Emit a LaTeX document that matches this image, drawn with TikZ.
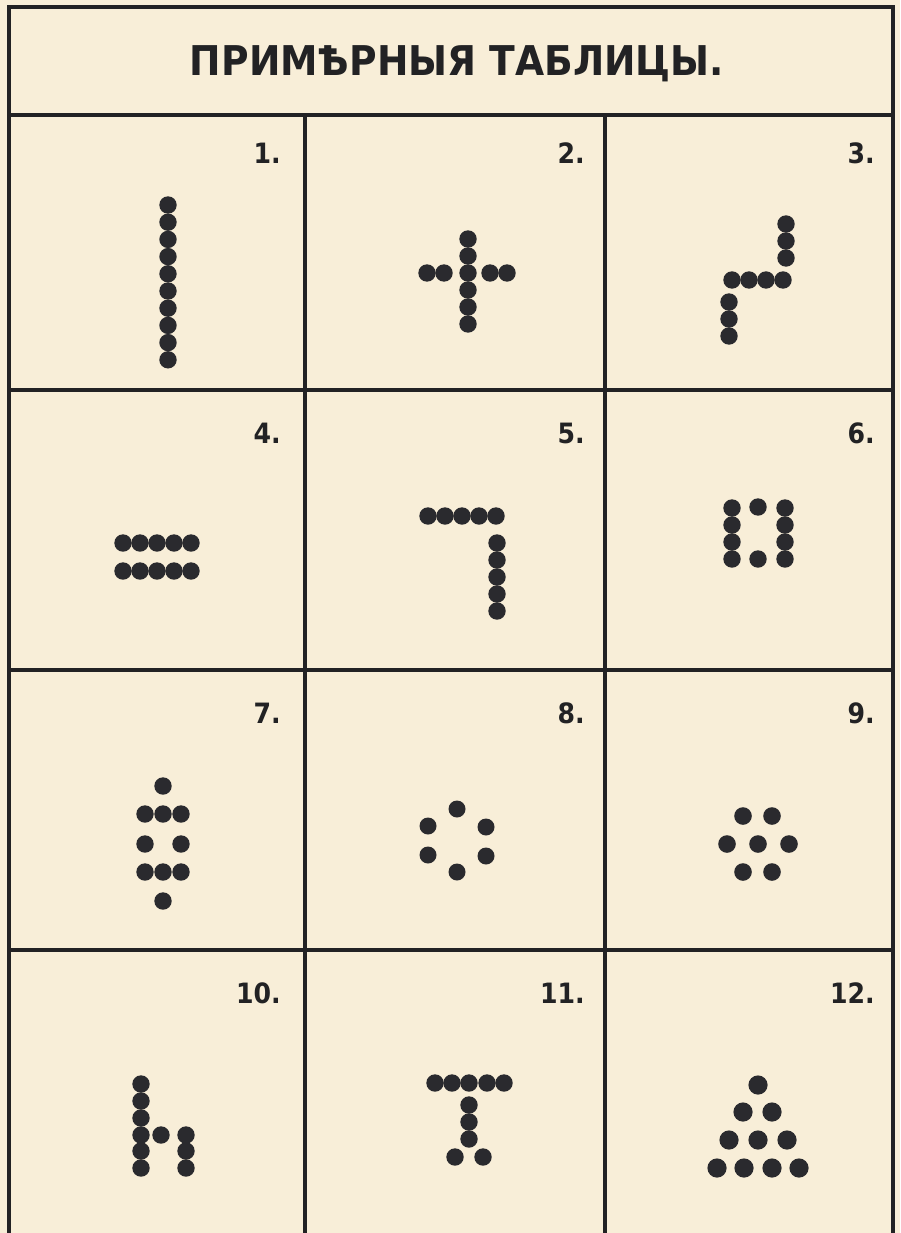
\documentclass[tikz,border=0pt]{standalone}
\usepackage{fontspec}
\newfontfamily\lblfont{DejaVu Sans Condensed}
\definecolor{paper}{RGB}{248,238,216}
\definecolor{ink}{RGB}{34,34,36}
\definecolor{dotink}{RGB}{42,42,46}
\begin{document}
\begin{tikzpicture}[x=1pt,y=-1pt,
  frame/.style={ink,line width=3.8pt},
  gridline/.style={ink,line width=3.2pt},
  num/.style={anchor=east,inner sep=0pt,font=\lblfont\bfseries\fontsize{28}{28}\selectfont,text=ink},
  titlelbl/.style={inner sep=0pt,font=\lblfont\bfseries\fontsize{41}{41}\selectfont,text=ink},
  pip/.style={fill=dotink}]
\fill[paper] (0,0) rectangle (900,1233);
\useasboundingbox (0,0) rectangle (900,1233);
% frame and grid
\draw[frame] (9,1233) -- (9,7) -- (893,7) -- (893,1233);
\draw[frame] (9,115) -- (893,115);
\foreach \yy in {390,670,950} \draw[gridline] (9,\yy) -- (893,\yy);
\foreach \xx in {305,605} \draw[gridline] (\xx,115) -- (\xx,1233);
% title
\node[titlelbl,xscale=1.02] (title) at (457,64) {ПРИМѢРНЫЯ ТАБЛИЦЫ.};
% numbers
\node[num] (n1) at (281,153) {1.};
\node[num] (n2) at (585,153) {2.};
\node[num] (n3) at (875,153) {3.};
\node[num] (n4) at (281,433) {4.};
\node[num] (n5) at (585,433) {5.};
\node[num] (n6) at (875,433) {6.};
\node[num] (n7) at (281,713) {7.};
\node[num] (n8) at (585,713) {8.};
\node[num] (n9) at (875,713) {9.};
\node[num] (n10) at (281,993) {10.};
\node[num] (n11) at (585,993) {11.};
\node[num] (n12) at (875,993) {12.};
% 1
\foreach \i in {0,...,9} \fill[pip] (168,205+17.2*\i) circle (8.7pt);
% 2
\foreach \i in {0,...,5} \fill[pip] (468,239+17*\i) circle (8.7pt);
\foreach \xx in {427,444,490,507} \fill[pip] (\xx,273) circle (8.7pt);
% 3
\foreach \yy in {224,241,258} \fill[pip] (786,\yy) circle (8.7pt);
\foreach \xx in {732,749,766,783} \fill[pip] (\xx,280) circle (8.7pt);
\foreach \yy in {302,319,336} \fill[pip] (729,\yy) circle (8.7pt);
% 4
\foreach \xx in {123,140,157,174,191} {\fill[pip] (\xx,543) circle (8.7pt); \fill[pip] (\xx,571) circle (8.7pt);}
% 5
\foreach \xx in {428,445,462,479,496} \fill[pip] (\xx,516) circle (8.7pt);
\foreach \yy in {543,560,577,594,611} \fill[pip] (497,\yy) circle (8.7pt);
% 6
\foreach \yy in {508,525,542,559} {\fill[pip] (732,\yy) circle (8.7pt); \fill[pip] (785,\yy) circle (8.7pt);}
\fill[pip] (758,507) circle (8.7pt);
\fill[pip] (758,559) circle (8.7pt);
% 7
\fill[pip] (163,786) circle (8.7pt);
\foreach \xx in {145,163,181} {\fill[pip] (\xx,814) circle (8.7pt); \fill[pip] (\xx,872) circle (8.7pt);}
\fill[pip] (145,844) circle (8.7pt);
\fill[pip] (181,844) circle (8.7pt);
\fill[pip] (163,901) circle (8.7pt);
% 8
\foreach \xx/\yy in {457/809,428/826,486/827,428/855,486/856,457/872} \fill[pip] (\xx,\yy) circle (8.5pt);
% 9
\foreach \xx/\yy in {743/816,772/816,727/844,758/844,789/844,743/872,772/872} \fill[pip] (\xx,\yy) circle (8.8pt);
% 10
\foreach \yy in {1084,1101,1118,1135,1151,1168} \fill[pip] (141,\yy) circle (8.7pt);
\fill[pip] (161,1135) circle (8.7pt);
\foreach \yy in {1135,1151,1168} \fill[pip] (186,\yy) circle (8.7pt);
% 11
\foreach \xx in {435,452,469,487,504} \fill[pip] (\xx,1083) circle (8.7pt);
\foreach \yy in {1105,1122,1139} \fill[pip] (469,\yy) circle (8.7pt);
\fill[pip] (455,1157) circle (8.7pt);
\fill[pip] (483,1157) circle (8.7pt);
% 12
\foreach \xx/\yy in {758/1085,743/1112,772/1112,729/1140,758/1140,787/1140,717/1168,744/1168,772/1168,799/1168} \fill[pip] (\xx,\yy) circle (9.6pt);
\end{tikzpicture}
\end{document}
